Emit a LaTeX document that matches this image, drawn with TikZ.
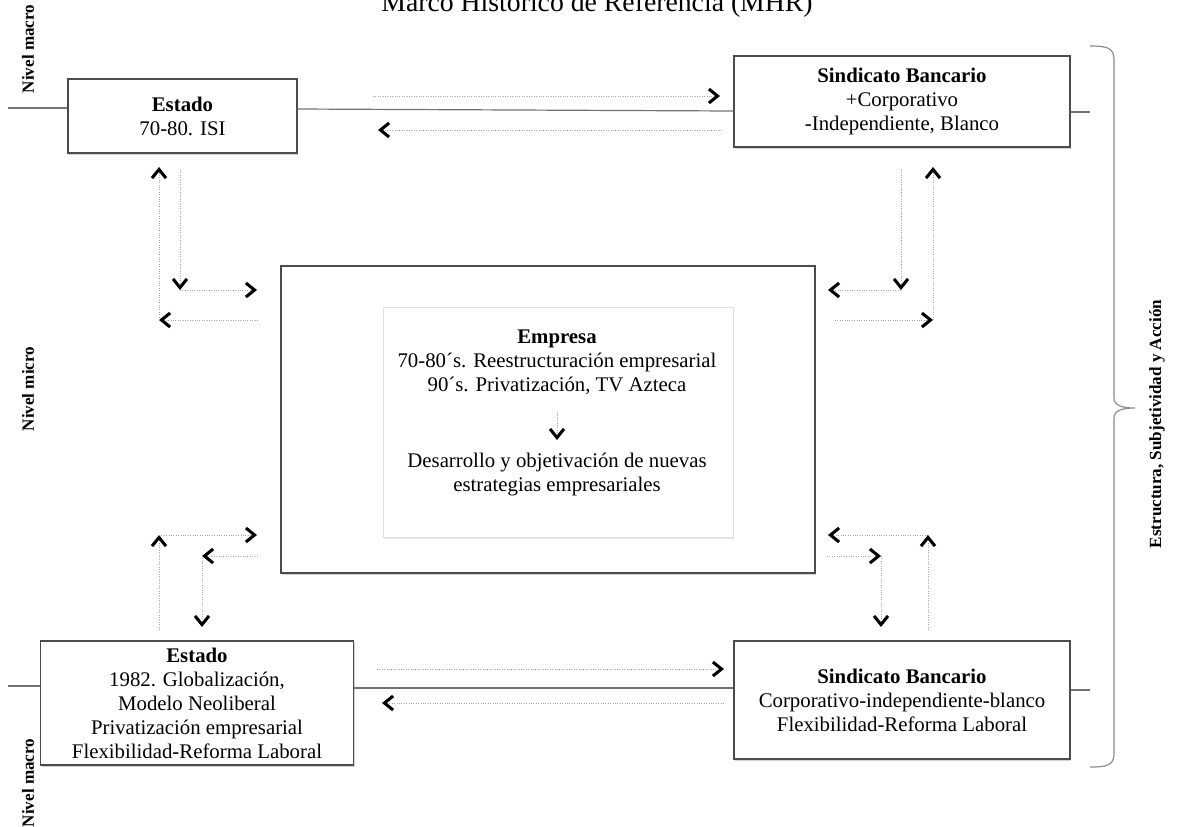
\documentclass[tikz,border=0pt]{standalone}
\usepackage{fontspec}
\setmainfont{Liberation Serif}
\usetikzlibrary{arrows.meta,shadows}
\begin{document}
\begin{tikzpicture}[x=0.75pt,y=-0.75pt,
  >={Straight Barb[length=6.5pt,width=10.5pt,line width=2.3pt,color=black]},
  box/.style={draw=black!70, line width=0.9pt, fill=white, align=center, inner sep=0pt,
    font=\fontsize{15.6}{18}\selectfont,
    drop shadow={shadow xshift=1pt,shadow yshift=-1.3pt,opacity=0.35}},
  softbox/.style={draw=black!12, line width=0.5pt, fill=white, inner sep=0pt,
    drop shadow={shadow xshift=0.8pt,shadow yshift=-1.5pt,opacity=0.2}},
  txt/.style={align=center, inner sep=0pt, font=\fontsize{15.6}{18}\selectfont},
  side/.style={font=\bfseries\fontsize{12.8}{14}\selectfont, rotate=90, inner sep=0pt},
  link/.style={draw=black!55, line width=0.9pt},
  flow/.style={draw=black!35, line width=0.7pt, dash pattern=on 0.8pt off 1pt, ->},
  bracestyle/.style={draw=black!45, line width=0.9pt}
]
\useasboundingbox (0,0) rectangle (1178,826);

% title
\node[font=\fontsize{20.8}{24}\selectfont, anchor=base, inner sep=0pt] (title) at (597,11) {Marco Histórico de Referencia (MHR)};

% side labels
\node[side] (macro1) at (28,49) {Nivel macro};
\node[side] (micro) at (28,389) {Nivel micro};
\node[side] (macro2) at (28,783) {Nivel macro};
\node[side] (esa) at (1157,424) {Estructura, Subjetividad y Acción};

% level lines (ends)
\coordinate (l1a) at (8,108);
\coordinate (l1b) at (1090,112);
\coordinate (l2a) at (8,686);
\coordinate (l2b) at (1090,690);

% boxes
\node[box, minimum width=171.75pt, minimum height=55.5pt] (est1) at (182.5,116)
  {\textbf{Estado}\\70-80. ISI};
\node[box, minimum width=252pt, minimum height=68.25pt] (sin1) at (902,101.5)
  {\textbf{Sindicato Bancario}\\+Corporativo\\-Independiente, Blanco};
\node[box, minimum width=400.5pt, minimum height=230.25pt] (big) at (548,419.5) {};
\node[softbox, minimum width=262.5pt, minimum height=172.5pt] (inner) at (558,422) {};
\node[txt] (emp1) at (557,362)
  {\textbf{Empresa}\\70-80´s. Reestructuración empresarial\\90´s. Privatización, TV Azteca};
\node[txt] (emp2) at (557,474.5)
  {Desarrollo y objetivación de nuevas\\estrategias empresariales};
\node[box, minimum width=234.75pt, minimum height=93pt] (est2) at (197,703)
  {\textbf{Estado}\\1982. Globalización,\\Modelo Neoliberal\\Privatización empresarial\\Flexibilidad-Reforma Laboral};
\node[box, minimum width=252pt, minimum height=88.5pt] (sin2) at (902,700)
  {\textbf{Sindicato Bancario}\\Corporativo-independiente-blanco\\Flexibilidad-Reforma Laboral};

% level lines
\draw[link] (l1a) -- (l1a -| est1.west);
\draw[link] (est1.east |- 0,109) -- (sin1.west |- 0,111);
\draw[link] (sin1.east |- l1b) -- (l1b);
\draw[link] (l2a) -- (l2a -| est2.west);
\draw[link] (est2.east |- 0,688) -- (sin2.west |- 0,688);
\draw[link] (sin2.east |- l2b) -- (l2b);

% brace
\coordinate (brTop) at (1090,46);
\coordinate (brTip) at (1135,408);
\coordinate (brBot) at (1090,767);
\draw[bracestyle] (brTop) .. controls (1108,46) and (1114,48) .. (1114,60) -- (1114,398)
  .. controls (1114,405) and (1121,408) .. (brTip)
  .. controls (1121,408) and (1114,411) .. (1114,418) -- (1114,753)
  .. controls (1114,765) and (1108,767) .. (brBot);

% top horizontal flows
\coordinate (h1s) at (373,96);  \coordinate (h1e) at (720,96);
\coordinate (h2s) at (722,130); \coordinate (h2e) at (378,130);
\draw[flow] (h1s) -- (h1e);
\draw[flow] (h2s) -- (h2e);

% top-left
\coordinate (tl1) at (180,170); \coordinate (tl2) at (180,290); \coordinate (tl3) at (257,290);
\coordinate (tl4) at (258,320); \coordinate (tl5) at (159,320); \coordinate (tl6) at (159,167);
\draw[flow] (tl1) -- (tl2);
\draw[flow] (tl2) -- (tl3);
\draw[flow] (tl4) -- (tl5);
\draw[flow] (tl5) -- (tl6);

% top-right
\coordinate (tr1) at (901,170); \coordinate (tr2) at (901,290); \coordinate (tr3) at (828,290);
\coordinate (tr4) at (835,320); \coordinate (tr5) at (933,320); \coordinate (tr6) at (933,167);
\draw[flow] (tr1) -- (tr2);
\draw[flow] (tr2) -- (tr3);
\draw[flow] (tr4) -- (tr5);
\draw[flow] (tr5) -- (tr6);

% bottom-left
\coordinate (bl1) at (159,630); \coordinate (bl2) at (159,535); \coordinate (bl3) at (257,535);
\coordinate (bl4) at (258,556); \coordinate (bl5) at (202,556); \coordinate (bl6) at (202,627);
\draw[flow] (bl1) -- (bl2);
\draw[flow] (bl2) -- (bl3);
\draw[flow] (bl4) -- (bl5);
\draw[flow] (bl5) -- (bl6);

% bottom-right
\coordinate (br1) at (928,630); \coordinate (br2) at (928,535); \coordinate (br3) at (828,535);
\coordinate (br4) at (827,556); \coordinate (br5) at (881,556); \coordinate (br6) at (881,627);
\draw[flow] (br2) -- (br3);
\draw[flow] (br1) -- (br2);
\draw[flow] (br4) -- (br5);
\draw[flow] (br5) -- (br6);

% bottom horizontal flows
\coordinate (g1s) at (377,669); \coordinate (g1e) at (724,669);
\coordinate (g2s) at (724,703); \coordinate (g2e) at (382,703);
\draw[flow] (g1s) -- (g1e);
\draw[flow] (g2s) -- (g2e);

% inside empresa
\draw[flow] (emp1.south |- 0,413) -- (emp1.south |- 0,440);
\end{tikzpicture}
\end{document}
